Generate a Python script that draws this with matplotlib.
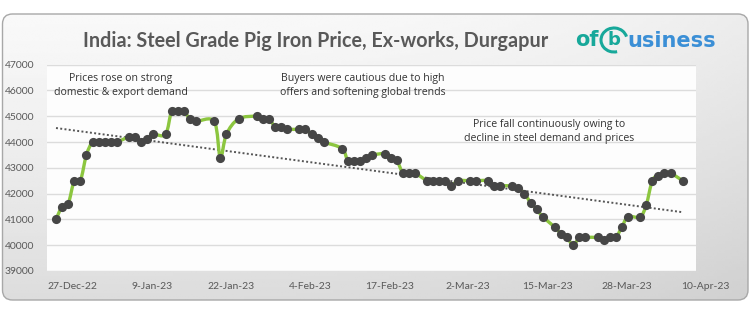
import numpy as np
import pandas as pd
import matplotlib
matplotlib.use("Agg")
import matplotlib.pyplot as plt
from matplotlib.patches import FancyBboxPatch, PathPatch, Arc
from matplotlib.path import Path
import matplotlib.transforms as mtransforms

# Durgapur pig iron price (Rs/t), one entry per trading day
base_date = pd.Timestamp("2022-12-24")
day_offsets = [0, 1, 2, 3, 4, 5, 6, 7, 8, 9, 10, 12, 13, 14, 15, 16, 18, 19, 20, 21,
               22, 23, 26, 27, 28, 30, 33, 34, 35, 36, 37, 38, 40, 41, 42, 43, 44, 47, 48, 49,
               50, 51, 52, 54, 55, 56, 57, 58, 59, 61, 62, 63, 64, 65, 66, 68, 69, 71, 72, 73,
               75, 76, 77, 78, 79, 80, 82, 83, 84, 85, 86, 87, 89, 90, 91, 92, 93, 94, 96, 97,
               98, 99, 100, 101, 103]
prices = [41000, 41500, 41600, 42500, 42500, 43500, 44000, 44000, 44000, 44000, 44000, 44200,
          44200, 44000, 44100, 44300, 44300, 45200, 45200, 45200, 44900, 44800, 44800, 43400,
          44300, 44900, 45000, 44900, 44900, 44600, 44600, 44500, 44500, 44500, 44300, 44150,
          44000, 43750, 43250, 43250, 43250, 43400, 43500, 43550, 43400, 43300, 42800, 42800,
          42800, 42500, 42500, 42500, 42500, 42300, 42500, 42500, 42500, 42500, 42300, 42300,
          42300, 42200, 42000, 41650, 41400, 41100, 40700, 40450, 40300, 40000, 40300, 40300,
          40300, 40200, 40300, 40300, 40700, 41100, 41100, 41550, 42500, 42700, 42800, 42800,
          42500]

tick_dates = ["27-Dec-22", "9-Jan-23", "22-Jan-23", "4-Feb-23", "17-Feb-23",
              "2-Mar-23", "15-Mar-23", "28-Mar-23", "10-Apr-23"]
y_ticks = [39000, 40000, 41000, 42000, 43000, 44000, 45000, 46000, 47000]

title = "India: Steel Grade Pig Iron Price, Ex-works, Durgapur"
notes = [
    ("Prices rose on strong\ndomestic & export demand", 10.7, 46200),
    ("Buyers were cautious due to high\noffers and softening global trends", 50.4, 46200),
    ("Price fall continuously owing to\ndecline in steel demand and prices", 81, 44400),
]

GREEN = "#8cc63f"
DOT = "#464646"
TEXT = "#595959"
TEAL = "#17a89a"

fig = plt.figure(figsize=(7.52, 3.16), dpi=100)
fig.patch.set_facecolor("white")

# background card with a soft grey gradient
bg = fig.add_axes([0, 0, 1, 1])
bg.set_xlim(0, 752)
bg.set_ylim(316, 0)
bg.axis("off")
card = FancyBboxPatch((2.5, 14), 745.5, 286, boxstyle="round,pad=0,rounding_size=10",
                      fc="none", ec="#a8a8a8", lw=1.0, zorder=2)
bg.add_patch(card)
gy, gx = np.mgrid[0:1:100j, 0:1:200j]
shade = 0.975 - 0.11 * gy ** 1.2 - 0.05 * gx ** 3
img = bg.imshow(shade, extent=(2.5, 748, 300, 14), cmap="gray", vmin=0, vmax=1,
                aspect="auto", zorder=1)
img.set_clip_path(card)

bg.text(316, 41, title, ha="center", va="center", fontsize=14.2, color=TEXT,
        family="Lato", weight="bold")

# logo
bg.text(575, 40, "of", ha="left", va="center", fontsize=15, color=TEAL,
        family="DejaVu Sans", weight="bold")
bg.add_patch(Arc((614, 40), 26, 24, theta1=75, theta2=345, lw=2.2, color=TEAL))
bg.text(614, 40, "b", ha="center", va="center", fontsize=13, color=TEAL,
        family="DejaVu Sans", weight="bold")
bg.text(627, 41, "usiness", ha="left", va="center", fontsize=15, color="#3b8fd6",
        family="DejaVu Sans", weight="bold")

# plot area
ax = fig.add_axes([47 / 752, 45 / 316, 648.7 / 752, 206.3 / 316])
ax.set_facecolor("#fdfdfd")
ax.set_xlim(-1.48, 105.14)
ax.set_ylim(39000, 47000)
ax.set_yticks(y_ticks)
ax.set_yticklabels([str(v) for v in y_ticks], fontsize=7.5, color=TEXT, family="Lato")
ax.tick_params(axis="y", length=0, pad=9)
ax.set_xticks([])
ax.grid(axis="y", color="#dcdcdc", lw=1.0)
ax.set_axisbelow(True)
for s in ax.spines.values():
    s.set_visible(False)

x = np.array(day_offsets, dtype=float)
y = np.array(prices, dtype=float)

# smoothed line (Catmull-Rom style Bezier, like Excel's smoothed line)
pts = np.column_stack([x, y])
ext = np.vstack([pts[0], pts, pts[-1]])
verts = [pts[0]]
codes = [Path.MOVETO]
for i in range(len(pts) - 1):
    p0, p1, p2, p3 = ext[i], ext[i + 1], ext[i + 2], ext[i + 3]
    verts += [p1 + (p2 - p0) / 6, p2 - (p3 - p1) / 6, p2]
    codes += [Path.CURVE4] * 3
ax.add_patch(PathPatch(Path(verts, codes), fc="none", ec=GREEN, lw=2.4, zorder=3))

# linear trend
slope, icpt = np.polyfit(x, y, 1)
ax.plot([x[0], x[-1]], [icpt + slope * x[0], icpt + slope * x[-1]],
        ls=(0, (1, 1.2)), color="#555555", lw=1.4, zorder=2)

ax.plot(x, y, "o", ms=6.6, color=DOT, mec="none", zorder=4)

# date labels
tick_days = [(pd.Timestamp(d) - base_date).days for d in
             pd.to_datetime(tick_dates, format="%d-%b-%y")]
trans = mtransforms.blended_transform_factory(ax.transData, ax.transAxes)
for d, lab in zip(tick_days, tick_dates):
    ax.text(d - 0.25, -0.075, lab, transform=trans, ha="center", va="center", fontsize=7.5,
            color=TEXT, family="Lato", clip_on=False)

for txt, xd, yd in notes:
    ax.text(xd, yd, txt, ha="center", va="center", fontsize=7.6, color="#333333",
            family="Open Sans", linespacing=1.35)

fig.savefig("out.png", dpi=100)
